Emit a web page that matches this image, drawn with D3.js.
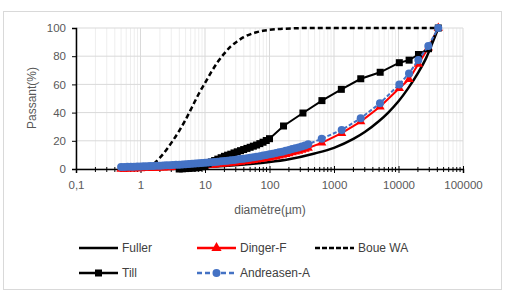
<!DOCTYPE html>
<html>
<head>
<meta charset="utf-8">
<title>Passant vs diamètre</title>
<script src="https://cdnjs.cloudflare.com/ajax/libs/d3/7.8.5/d3.min.js"></script>
<style>
  html, body { margin: 0; padding: 0; background: #fff; }
  svg { display: block; font-family: "Liberation Sans", Arial, sans-serif; }
</style>
</head>
<body>
<div id="chart"></div>
<script>
// ---- data ----
const xTicks = [0.1, 1, 10, 100, 1000, 10000, 100000];
const xTickLabels = ["0,1", "1", "10", "100", "1000", "10000", "100000"];
const yTicks = [0, 20, 40, 60, 80, 100];

const fullerD = [0.5, 1, 2, 5, 10, 20, 50, 100, 200, 500, 1000, 2000, 3000, 5000, 7000, 10000, 14000, 20000, 27000, 34000, 41400];
const fullerP = [0.35, 0.5, 0.7, 1.1, 1.55, 2.2, 3.5, 4.9, 6.9, 11, 15, 21.3, 26.2, 34, 40.2, 48, 57, 68, 79, 90, 100];

// shared diameters for the two model curves (dense part + sparse part)
const modelD = [0.5, 0.56, 0.63, 0.71, 0.79, 0.89, 1, 1.12, 1.26, 1.41, 1.58, 1.78, 2, 2.24, 2.51, 2.82, 3.16, 3.55, 3.98, 4.47,
  5.01, 5.62, 6.31, 7.08, 7.94, 8.91, 10, 11.2, 12.6, 14.1, 15.8, 17.8, 20, 22.4, 25.1, 28.2, 31.6, 35.5, 39.8, 44.7,
  50.1, 56.2, 63.1, 70.8, 79.4, 89.1, 100, 112, 126, 141, 158, 178, 200, 224, 251, 282, 316, 355, 398,
  645, 1315, 2594, 5160, 10300, 14550, 20300, 29000, 41400];
const dingerP = [0, 0.05, 0.1, 0.16, 0.22, 0.28, 0.35, 0.42, 0.49, 0.56, 0.64, 0.72, 0.81, 0.9, 0.99, 1.09, 1.19, 1.3, 1.41, 1.53,
  1.65, 1.78, 1.92, 2.06, 2.21, 2.37, 2.53, 2.7, 2.88, 3.07, 3.26, 3.47, 3.68, 3.9, 4.14, 4.38, 4.64, 4.91, 5.2, 5.5,
  5.8, 6.13, 6.47, 6.83, 7.2, 7.6, 8, 8.43, 8.9, 9.35, 9.9, 10.4, 11, 11.6, 12.2, 12.8, 13.5, 14.2, 14.9,
  18.5, 25.4, 33.6, 44.2, 57.2, 63.6, 74.5, 85.9, 100];
const andreasenP = [1.42, 1.48, 1.55, 1.61, 1.68, 1.76, 1.84, 1.92, 2, 2.09, 2.18, 2.28, 2.38, 2.48, 2.6, 2.71, 2.83, 2.96, 3.09, 3.22,
  3.37, 3.51, 3.67, 3.83, 4, 4.18, 4.37, 4.56, 4.76, 4.97, 5.19, 5.42, 5.66, 5.91, 6.17, 6.44, 6.73, 7.03, 7.34, 7.66,
  8, 8.35, 8.73, 9.11, 9.52, 9.94, 10.4, 10.85, 11.3, 11.8, 12.3, 12.9, 13.5, 14.1, 14.7, 15.3, 16, 16.7, 17.5,
  21.5, 27.7, 36, 46.6, 60, 67.8, 77.3, 87.2, 100];

const tillD = [3.98, 4.47, 5.01, 5.62, 6.31, 7.08, 7.94, 8.91, 10, 11.2, 12.6, 14.1, 15.8, 17.8, 20, 22.4, 25.1, 28.2, 31.6, 35.5,
  39.8, 44.7, 50.1, 56.2, 63.1, 70.8, 79.4, 89.1, 100,
  165, 330, 650, 1300, 2600, 5200, 10300, 14600, 20400, 29200, 41400];
const tillP = [0, 0.15, 0.3, 0.45, 0.6, 0.8, 1, 1.6, 2.5, 3.7, 5, 6, 7, 8, 9, 9.8, 10.5, 11.4, 12.2, 13,
  13.8, 14.6, 15.4, 16.2, 17, 18, 19, 20.2, 21.5,
  30.5, 39.7, 48.5, 56.5, 64, 68.6, 75.4, 77.2, 81.2, 85.3, 100];

const boueD = [1.26, 1.58, 2, 2.51, 3.16, 3.98, 5.01, 6.31, 7.94, 10, 12.6, 15.8, 20, 25.1, 31.6, 39.8, 50.1, 63.1, 79.4, 100, 158, 251, 398, 1000, 10000, 41400];
const boueP = [1, 3.5, 8, 13.5, 20, 27, 35, 44, 53, 61, 69, 76, 82, 87, 90.5, 93.5, 95.5, 97, 98, 98.7, 99.4, 99.8, 100, 100, 100, 100];

// ---- layout ----
const W = 511, H = 293;
const svg = d3.select("#chart").append("svg").attr("width", W).attr("height", H);

svg.append("rect")
  .attr("x", 3.5).attr("y", 11.5).attr("width", 498).attr("height", 278)
  .attr("fill", "#fff").attr("stroke", "#d9d9d9");

const x = d3.scaleLog().domain([0.1, 100000]).range([76, 463]);
const y = d3.scaleLinear().domain([0, 100]).range([169, 28]);

// minor vertical grid
const minor = [];
for (let e = -1; e < 5; e++) for (let m = 2; m <= 9; m++) minor.push(m * Math.pow(10, e));

svg.append("g").selectAll("line").data(minor).enter().append("line")
  .attr("x1", d => x(d)).attr("x2", d => x(d))
  .attr("y1", y(0)).attr("y2", y(100))
  .attr("stroke", "#eeeeee").attr("stroke-width", 1);

svg.append("g").selectAll("line").data(xTicks).enter().append("line")
  .attr("x1", d => x(d)).attr("x2", d => x(d))
  .attr("y1", y(0)).attr("y2", y(100))
  .attr("stroke", "#d9d9d9").attr("stroke-width", 1);

svg.append("g").selectAll("line").data(yTicks).enter().append("line")
  .attr("x1", x(0.1)).attr("x2", x(100000))
  .attr("y1", d => y(d)).attr("y2", d => y(d))
  .attr("stroke", "#d9d9d9").attr("stroke-width", 1);

// axes
const xAxis = d3.axisBottom(x).tickValues(xTicks)
  .tickFormat((d, i) => xTickLabels[i]).tickSize(4).tickPadding(8);
const gx = svg.append("g").attr("transform", `translate(0,${y(0)})`).call(xAxis);
gx.select(".domain").attr("stroke", "#000").attr("stroke-width", 1.5);
gx.selectAll(".tick line").attr("stroke", "#000").attr("y1", -3);
gx.selectAll("text").attr("fill", "#595959").style("font-size", "11.5px");

gx.append("g").selectAll("line").data(minor).enter().append("line")
  .attr("x1", d => x(d)).attr("x2", d => x(d))
  .attr("y1", -2).attr("y2", 3)
  .attr("stroke", "#000");

const yAxis = d3.axisLeft(y).tickValues(yTicks).tickSize(4).tickPadding(6);
const gy = svg.append("g").attr("transform", `translate(${x(0.1)},0)`).call(yAxis);
gy.select(".domain").attr("stroke", "#000").attr("stroke-width", 1.5);
gy.selectAll(".tick line").attr("stroke", "#000");
gy.selectAll("text").attr("fill", "#595959").style("font-size", "11.5px");

svg.append("text")
  .attr("transform", "translate(36,98) rotate(-90)")
  .attr("text-anchor", "middle").attr("fill", "#595959")
  .style("font-size", "12px").text("Passant(%)");

svg.append("text")
  .attr("x", 270).attr("y", 214)
  .attr("text-anchor", "middle").attr("fill", "#595959")
  .style("font-size", "12px").text("diamètre(µm)");

// ---- series ----
const zip = (ds, ps) => ds.map((d, i) => ({ d: d, p: ps[i] }));
const line = d3.line().x(v => x(v.d)).y(v => y(v.p));
const smooth = d3.line().x(v => x(v.d)).y(v => y(v.p)).curve(d3.curveMonotoneX);

const fuller = zip(fullerD, fullerP);
const dinger = zip(modelD, dingerP);
const andreasen = zip(modelD, andreasenP);
const till = zip(tillD, tillP);
const boue = zip(boueD, boueP);

const blue = "#4472c4", red = "#ff0000";

svg.append("path").datum(fuller).attr("d", smooth)
  .attr("fill", "none").attr("stroke", "#000").attr("stroke-width", 2.5);

svg.append("path").datum(dinger).attr("d", line)
  .attr("fill", "none").attr("stroke", red).attr("stroke-width", 2);
svg.append("g").selectAll("path").data(dinger).enter().append("path")
  .attr("d", d3.symbol(d3.symbolTriangle).size(38))
  .attr("transform", v => `translate(${x(v.d)},${y(v.p)})`)
  .attr("fill", red);

svg.append("path").datum(boue).attr("d", smooth)
  .attr("fill", "none").attr("stroke", "#000").attr("stroke-width", 2.5)
  .attr("stroke-dasharray", "5,3");

svg.append("path").datum(till).attr("d", line)
  .attr("fill", "none").attr("stroke", "#000").attr("stroke-width", 2);
svg.append("g").selectAll("rect").data(till).enter().append("rect")
  .attr("x", v => x(v.d) - 3.5).attr("y", v => y(v.p) - 3.5)
  .attr("width", 7).attr("height", 7).attr("fill", "#000");

svg.append("path").datum(andreasen).attr("d", line)
  .attr("fill", "none").attr("stroke", blue).attr("stroke-width", 2)
  .attr("stroke-dasharray", "4,2");
svg.append("g").selectAll("circle").data(andreasen).enter().append("circle")
  .attr("cx", v => x(v.d)).attr("cy", v => y(v.p)).attr("r", 4)
  .attr("fill", blue);

// ---- legend ----
const legend = [
  { name: "Fuller", col: 0, row: 0, color: "#000", dash: null, mark: null },
  { name: "Dinger-F", col: 1, row: 0, color: red, dash: null, mark: "tri" },
  { name: "Boue WA", col: 2, row: 0, color: "#000", dash: "5,2", mark: null },
  { name: "Till", col: 0, row: 1, color: "#000", dash: null, mark: "sq" },
  { name: "Andreasen-A", col: 1, row: 1, color: blue, dash: "5,3", mark: "circ" }
];
const colX = [79, 197, 315], rowY = [248, 273];

const lg = svg.append("g").selectAll("g").data(legend).enter().append("g")
  .attr("transform", d => `translate(${colX[d.col]},${rowY[d.row]})`);
lg.append("line").attr("x1", 0).attr("x2", 39).attr("y1", 0).attr("y2", 0)
  .attr("stroke", d => d.color).attr("stroke-width", 2.5)
  .attr("stroke-dasharray", d => d.dash);
lg.filter(d => d.mark === "tri").append("path")
  .attr("d", d3.symbol(d3.symbolTriangle).size(45))
  .attr("transform", "translate(19.5,0)").attr("fill", red);
lg.filter(d => d.mark === "sq").append("rect")
  .attr("x", 16).attr("y", -3.5).attr("width", 7).attr("height", 7).attr("fill", "#000");
lg.filter(d => d.mark === "circ").append("circle")
  .attr("cx", 19.5).attr("cy", 0).attr("r", 4).attr("fill", blue);
lg.append("text").attr("x", 43).attr("y", 4)
  .attr("fill", "#404040").style("font-size", "12px").text(d => d.name);
</script>
</body>
</html>
